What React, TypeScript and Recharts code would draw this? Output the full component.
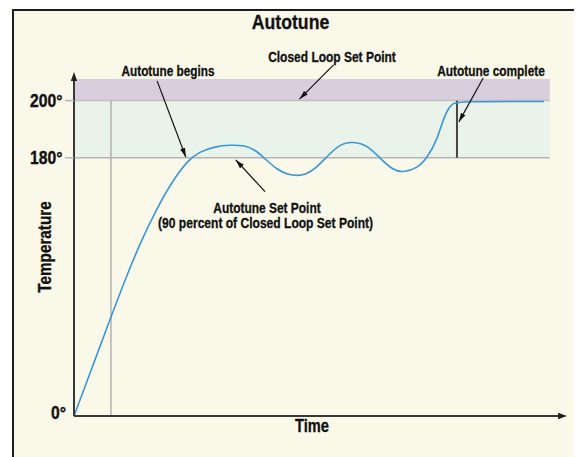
import React from 'react';
import { LineChart, Line, XAxis, YAxis, ReferenceArea, ReferenceLine } from 'recharts';

// ---- data (time in % of the run, temperature in degrees) ----
const timeValues = [0, 3.7, 7.6, 10.5, 13.6, 17.1, 20.4, 23.5, 25.9, 29.0, 32.1, 35.2, 37.2, 38.9, 41.8, 44.0, 45.9, 47.7, 49.8, 52.7, 55.1, 57.4, 60.3, 63.0, 65.6, 67.7, 70.6, 72.6, 74.7, 75.9, 77.0, 78.0, 79.0, 96.7];
const temperatureValues = [0, 74.3, 108.7, 128.5, 145.8, 160.7, 171.7, 179.2, 182.3, 184.1, 184.7, 184.5, 182.9, 180.4, 175.5, 173.8, 173.3, 173.8, 176.1, 181.7, 185.3, 185.8, 184.7, 179.8, 175.5, 174.5, 176.1, 179.8, 186.4, 193.4, 197.4, 199.1, 199.7, 199.7];
const yTicks = [0, 180, 200];
const closedLoopSetPoint = 200;
const autotuneSetPoint = 180;
const yMax = 207.1;
const xMax = 100;
const bandEnd = 97.9;
const autotuneBeginTime = 7.6;
const autotuneCompleteTime = 78.8;
// annotation arrows [fromTime, fromTemp, toTime, toTemp]
const arrowClosedLoop = [53.4, 211.6, 46.4, 200.5];
const arrowBegins = [17.1, 206.5, 23.0, 180.3];
const arrowComplete = [84.2, 207.4, 79.2, 192.8];
const arrowSetPoint = [39.3, 167.2, 33.3, 179.2];

const data = timeValues.map((t, i) => ({ t, temp: temperatureValues[i] }));

const FONT = '"Liberation Sans", Arial, sans-serif';

function powScale(exponent: number): any {
  let d0 = 0, d1 = 1, r0 = 0, r1 = 1;
  const f = (t: number) => Math.sign(t) * Math.pow(Math.abs(t), exponent);
  const fi = (t: number) => Math.sign(t) * Math.pow(Math.abs(t), 1 / exponent);
  const scale: any = (v: any) => {
    const n = Number(v);
    return r0 + f((n - d0) / (d1 - d0)) * (r1 - r0);
  };
  scale.domain = (d?: any[]) => {
    if (d === undefined) return [d0, d1];
    d0 = Number(d[0]);
    d1 = Number(d[d.length - 1]);
    return scale;
  };
  scale.range = (r?: any[]) => {
    if (r === undefined) return [r0, r1];
    r0 = Number(r[0]);
    r1 = Number(r[r.length - 1]);
    return scale;
  };
  scale.invert = (p: number) => d0 + fi((p - r0) / (r1 - r0)) * (d1 - d0);
  scale.copy = () => powScale(exponent).domain([d0, d1]).range([r0, r1]);
  scale.ticks = (count = 10) => {
    const step = (d1 - d0) / count;
    const out: number[] = [];
    for (let i = 0; i <= count; i++) out.push(d0 + i * step);
    return out;
  };
  scale.tickFormat = () => (v: any) => String(v);
  scale.nice = () => scale;
  scale.clamp = () => scale;
  scale.exponent = () => exponent;
  return scale;
}

const yScale = powScale(1.9);

const YTick = (props: any) => {
  const { x, y, payload } = props;
  const v = payload.value;
  const label = `${v}°`;
  return (
    <g>
      {v > 0 && <line x1={x + 2} x2={x + 11} y1={y} y2={y} stroke="#b4b4b4" strokeWidth={1.5} />}
      <text
        x={v === 0 ? x + 3 : x - 0.5}
        y={v === 0 ? y + 2.5 : y + 6.5}
        textAnchor="end"
        fontFamily={FONT}
        fontWeight="bold"
        fontSize={17.5}
        textLength={v === 0 ? 15 : 32.5}
        lengthAdjust="spacingAndGlyphs"
        fill="#111"
        stroke="#111"
        strokeWidth={0.35}
      >
        {label}
      </text>
    </g>
  );
};

const ArrowShape = (p: any) => (
  <line x1={p.x1} y1={p.y1} x2={p.x2} y2={p.y2} stroke="#111" strokeWidth={1.2} markerEnd="url(#annArrow)" />
);

const txt = {
  fontFamily: FONT,
  fontWeight: 'bold' as const,
  fill: '#111',
  stroke: '#111',
  strokeWidth: 0.3,
  lengthAdjust: 'spacingAndGlyphs' as const,
};

export default function App() {
  return (
    <div style={{ position: 'relative', width: 574, height: 449 }}>
      <svg width={0} height={0} style={{ position: 'absolute' }}>
        <defs>
          <marker id="axArrow" markerWidth={10} markerHeight={8} refX={2} refY={4} orient="auto-start-reverse" markerUnits="userSpaceOnUse">
            <path d="M0,0.8 L9,4 L0,7.2 z" fill="#222" />
          </marker>
          <marker id="annArrow" markerWidth={9} markerHeight={6} refX={9} refY={3} orient="auto" markerUnits="userSpaceOnUse">
            <path d="M0,0.4 L9,3 L0,5.6 z" fill="#111" />
          </marker>
        </defs>
      </svg>
      <div
        style={{
          position: 'absolute',
          left: 4,
          top: 1,
          right: 0,
          bottom: 0,
          background: '#faf8e9',
          borderLeft: '2px solid #1e1e1e',
          borderTop: '2px solid #1e1e1e',
        }}
      />
      <div style={{ position: 'absolute', left: 0, top: 0 }}>
        <LineChart width={574} height={449} data={data} margin={{ top: 71, right: 22, bottom: 11, left: 8 }}>
          <XAxis
            dataKey="t"
            type="number"
            domain={[0, xMax]}
            allowDataOverflow
            tick={false}
            tickLine={false}
            height={30}
            axisLine={{ stroke: '#383838', strokeWidth: 2, markerEnd: 'url(#axArrow)' }}
          />
          <YAxis
            type="number"
            domain={[0, yMax]}
            allowDataOverflow
            scale={yScale}
            ticks={yTicks}
            interval={0}
            width={58}
            tickSize={9}
            tickMargin={2}
            tickLine={false}
            tick={<YTick />}
            axisLine={{ stroke: '#383838', strokeWidth: 2, markerStart: 'url(#axArrow)' }}
          />
          <ReferenceArea x1={0} x2={bandEnd} y1={closedLoopSetPoint} y2={yMax} fill="#d9cede" fillOpacity={1} stroke="none" ifOverflow="visible" />
          <ReferenceArea x1={0} x2={bandEnd} y1={autotuneSetPoint} y2={closedLoopSetPoint} fill="#eaf3ea" fillOpacity={1} stroke="none" ifOverflow="visible" />
          <ReferenceLine segment={[{ x: 0, y: closedLoopSetPoint }, { x: bandEnd, y: closedLoopSetPoint }]} stroke="#c2c0bc" strokeWidth={1.5} ifOverflow="visible" />
          <ReferenceLine segment={[{ x: 0, y: autotuneSetPoint }, { x: bandEnd, y: autotuneSetPoint }]} stroke="#b4b4b4" strokeWidth={1.5} ifOverflow="visible" />
          <ReferenceLine segment={[{ x: autotuneBeginTime, y: 0 }, { x: autotuneBeginTime, y: closedLoopSetPoint }]} stroke="#b0b0b0" strokeWidth={1.5} ifOverflow="visible" />
          <ReferenceLine segment={[{ x: autotuneCompleteTime, y: autotuneSetPoint }, { x: autotuneCompleteTime, y: closedLoopSetPoint }]} stroke="#454545" strokeWidth={2} ifOverflow="visible" />
          <Line type="basis" dataKey="temp" stroke="#3a96d6" strokeWidth={1.6} dot={false} isAnimationActive={false} />
          {[arrowClosedLoop, arrowBegins, arrowComplete, arrowSetPoint].map((a, i) => (
            <ReferenceLine
              key={i}
              segment={[{ x: a[0], y: a[1] }, { x: a[2], y: a[3] }]}
              ifOverflow="visible"
              shape={ArrowShape}
            />
          ))}
        </LineChart>
      </div>
      <svg width={582} height={457} style={{ position: 'absolute', left: -8, top: -8, pointerEvents: 'none' }}>
        <text x={290.5} y={28.5} textAnchor="middle" fontSize={20.5} textLength={77.6} {...txt}>Autotune</text>
        <text x={332} y={62.3} textAnchor="middle" fontSize={15} textLength={127.7} {...txt}>Closed Loop Set Point</text>
        <text x={168} y={75.5} textAnchor="middle" fontSize={15} textLength={93} {...txt}>Autotune begins</text>
        <text x={491} y={75.5} textAnchor="middle" fontSize={15} textLength={107.7} {...txt}>Autotune complete</text>
        <text x={267} y={212.5} textAnchor="middle" fontSize={15} textLength={107.4} {...txt}>Autotune Set Point</text>
        <text x={265.6} y={228} textAnchor="middle" fontSize={15} textLength={215} {...txt}>(90 percent of Closed Loop Set Point)</text>
        <text x={51} y={247} textAnchor="middle" fontSize={17.5} textLength={91.3} transform="rotate(-90 51 247)" {...txt}>Temperature</text>
        <text x={312} y={432} textAnchor="middle" fontSize={17.5} textLength={34} {...txt}>Time</text>
      </svg>
    </div>
  );
}
